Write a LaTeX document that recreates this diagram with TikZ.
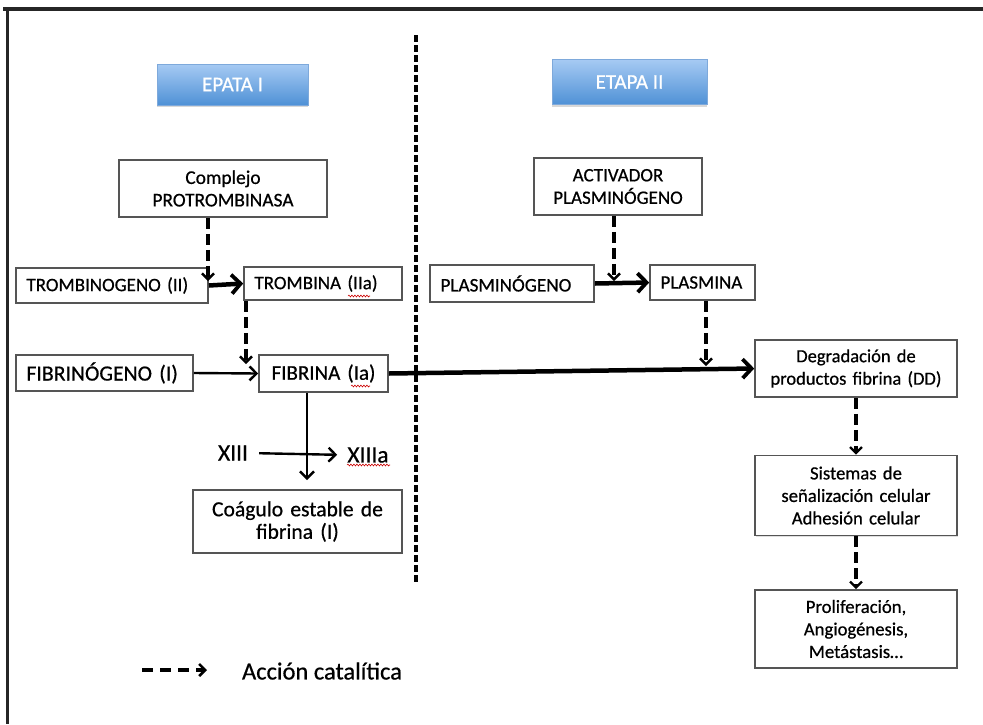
\documentclass[tikz,border=0pt]{standalone}
\usepackage{fontspec}
\setmainfont{Carlito}[UprightFeatures={FakeBold=0.6}]
\usetikzlibrary{arrows.meta,shadows,decorations.pathmorphing,calc}
\definecolor{hdrtop}{HTML}{A6CAF3}
\definecolor{hdrbot}{HTML}{4F91D6}
\definecolor{hdredge}{HTML}{7EA9DB}
\definecolor{boxedge}{HTML}{555555}
\newcommand{\fs}[1]{\fontsize{#1}{22.5}\selectfont}
\tikzset{
  base/.style={draw=boxedge, line width=1.6pt, fill=white, inner ysep=0pt,
    drop shadow={shadow xshift=1.2pt, shadow yshift=-1.2pt, opacity=0.25}},
  cbox/.style={base, align=center, inner xsep=0pt},
  lbox/.style={base, align=left, inner xsep=10.5pt},
  header/.style={draw=hdredge, line width=0.6pt, top color=hdrtop, bottom color=hdrbot,
    text=white, inner sep=0pt, font=\fs{21},
    drop shadow={shadow xshift=0pt, shadow yshift=-2pt, opacity=0.3}},
  solidarrow/.style={line width=2.4pt, -{Straight Barb[length=7pt,width=14pt,line width=2.4pt]}},
  thickarrow/.style={line width=4.5pt, -{Straight Barb[length=9pt,width=19pt,line width=3.8pt]}},
  cat/.style={line width=3.2pt, dash pattern=on 11pt off 5pt,
    -{Straight Barb[length=6pt,width=12pt,line width=2.4pt]}},
  squiggle/.style={red!80!black, line width=0.6pt,
    decorate, decoration={snake, amplitude=0.9pt, segment length=3pt}},
  plain/.style={inner sep=0pt}
}
\begin{document}
\begin{tikzpicture}[x=1pt,y=-1pt]
  \useasboundingbox (0,0) rectangle (983,724);
  \fill[white] (0,0) rectangle (983,724);

  % outer frame (top and left edges)
  \draw[line width=3.5pt, black!85, line cap=rect] (5,9) -- (983,9);
  \draw[line width=3pt, black!85] (7,9) -- (7,724);

  % separator between the two stages
  \draw[line width=3.2pt, dash pattern=on 7pt off 3pt] (416,35) -- (416,585);

  % stage headers
  \node[header, minimum width=151pt, minimum height=41pt] (hdr1) at (232.5,84.5) {EPATA I};
  \node[header, minimum width=155pt, minimum height=45pt] (hdr2) at (629.5,82) {ETAPA II};

  % stage I
  \node[cbox, font=\fs{19.4}, minimum width=208pt, minimum height=57pt] (comp) at (223,188.5)
    {Complejo\\PROTROMBINASA};
  \node[lbox, font=\fs{19}, text width=171pt, minimum height=35pt] (trg) at (112,285.5)
    {TROMBINOGENO (II)};
  \node[lbox, font=\fs{19}, text width=137pt, minimum height=33pt] (trb) at (323,283.5)
    {TROMBINA (IIa)};
  \node[lbox, font=\fs{21.7}, text width=156pt, minimum height=36pt] (fbg) at (104.5,373)
    {FIBRINÓGENO (I)};
  \node[cbox, font=\fs{21}, text width=129pt, minimum height=37pt] (fib) at (323.5,373.5)
    {FIBRINA (Ia)};
  \node[cbox, font=\fs{21.6}, text width=209pt, minimum height=63pt] (coag) at (297.5,521.5)
    {Coágulo estable de\\fibrina (I)};
  \node[plain, font=\fs{23.5}] (x13) at (233,453) {XIII};
  \node[plain, font=\fs{23.5}] (x13a) at (368,455) {XIIIa};

  % stage II
  \node[cbox, font=\fs{19}, minimum width=168pt, minimum height=57pt] (act) at (618,186.5)
    {ACTIVADOR\\PLASMINÓGENO};
  \node[lbox, font=\fs{19.2}, text width=143pt, minimum height=37pt] (plg) at (512,283.5)
    {PLASMINÓGENO};
  \node[lbox, font=\fs{19}, text width=84pt, minimum height=35pt] (pls) at (702.5,282.5)
    {PLASMINA};
  \node[cbox, font=\fs{18.5}, text width=202pt, minimum height=57pt] (deg) at (856,368.5)
    {Degradación de\\productos fibrina (DD)};
  \node[cbox, font=\fs{18.7}, text width=202pt, minimum height=80pt] (sis) at (856,495.5)
    {Sistemas de\\señalización celular\\Adhesión celular};
  \node[cbox, font=\fs{18.7}, text width=202pt, minimum height=78pt] (pro) at (856,629)
    {Proliferación,\\Angiogénesis,\\Metástasis…};

  % legend
  \node[plain, font=\fs{24.5}] (leg) at (322,671) {Acción catalítica};
  \coordinate (legs) at (142,670);
  \coordinate (lege) at (207,670);
  \draw[line width=3.2pt, dash pattern=on 11pt off 7pt,
    -{Straight Barb[length=6pt,width=12pt,line width=2.6pt]}] (legs) -- (lege);

  % end points of the catalytic arrows
  \coordinate (c1) at (208,281);
  \coordinate (c2) at (246,364);
  \coordinate (c3) at (614,281);
  \coordinate (c4) at (706,366);
  \coordinate (v1) at (307,480);

  % conversions
  \draw[thickarrow] (trg.east) -- (trb.west);
  \draw[solidarrow] (fbg.east) -- (fib.west);
  \draw[thickarrow] (plg.east) -- (pls.west);
  \draw[thickarrow] (fib.east) -- (deg.west);
  \draw[solidarrow, shorten <=11pt, shorten >=10pt] (x13.east) -- (x13a.west);
  \draw[solidarrow] (fib.south -| v1) -- (v1);

  % catalytic actions
  \draw[cat] (comp.south -| c1) -- (c1);
  \draw[cat] (trb.south -| c2) -- (c2);
  \draw[cat] (act.south -| c3) -- (c3);
  \draw[cat] (pls.south -| c4) -- (c4);
  \draw[cat] (deg.south) -- (sis.north);
  \draw[cat] (sis.south) -- (pro.north);

  % spell-check marks under abbreviations
  \draw[squiggle] (348,296) -- (370,296);
  \draw[squiggle] (351,386) -- (370,386);
  \draw[squiggle] (347,465) -- (390,465);
\end{tikzpicture}
\end{document}
